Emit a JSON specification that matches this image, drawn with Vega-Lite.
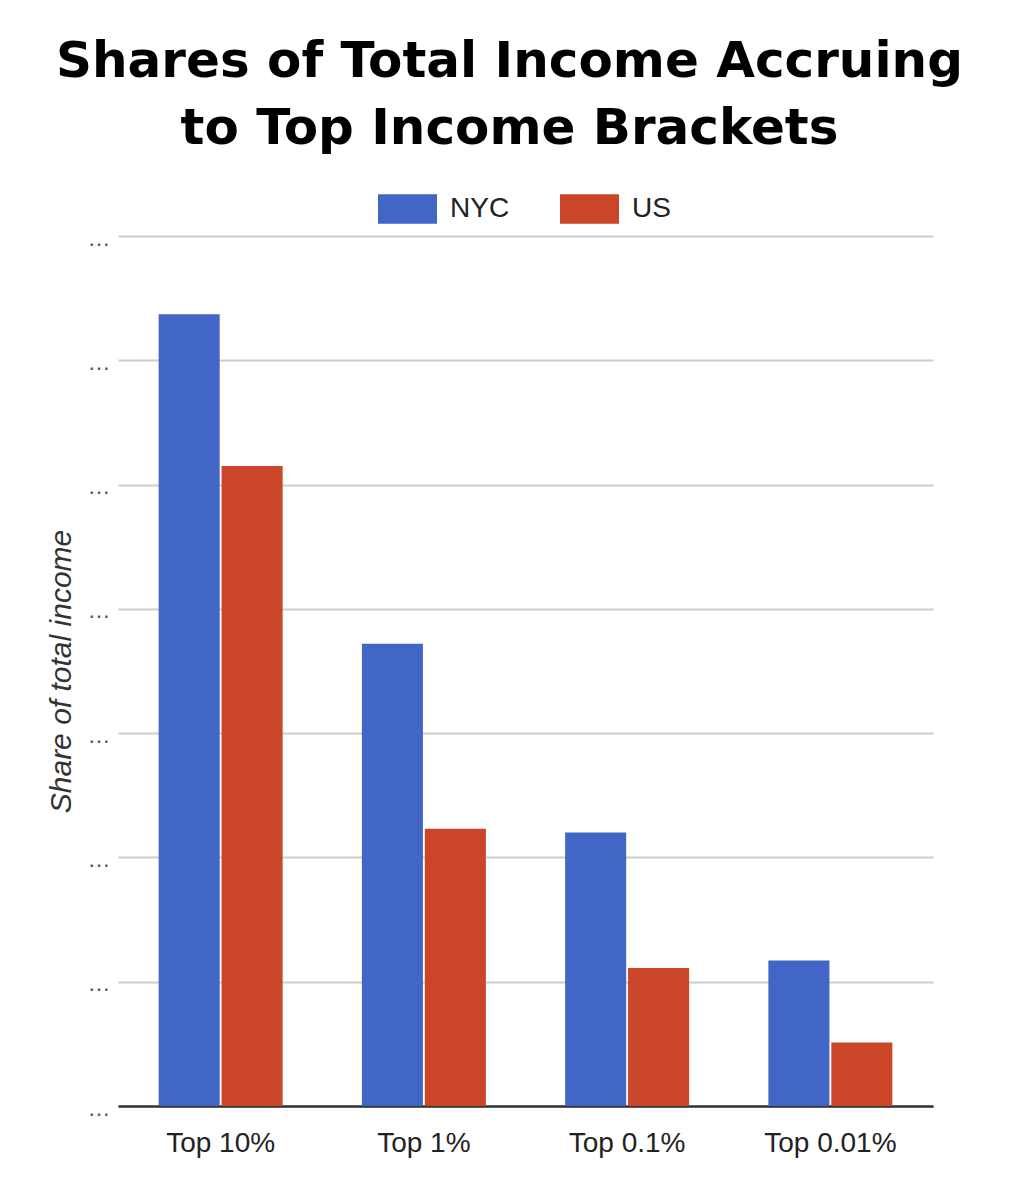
{
  "$schema": "https://vega.github.io/schema/vega-lite/v6.json",
  "autosize": {"type": "none"},
  "padding": {"left": 118, "top": 236, "right": 78, "bottom": 94},
  "width": 815,
  "height": 870,
  "background": "white",
  "title": {
    "text": ["Shares of Total Income Accruing", "to Top Income Brackets"],
    "font": "DejaVu Sans",
    "fontWeight": "bold",
    "fontSize": 50,
    "lineHeight": 67,
    "color": "#000000",
    "anchor": "middle",
    "dx": -16,
    "offset": 25
  },
  "data": {
    "values": [
      {"bracket": "Top 10%", "region": "NYC", "share": 63.7},
      {"bracket": "Top 10%", "region": "US", "share": 51.5},
      {"bracket": "Top 1%", "region": "NYC", "share": 37.2},
      {"bracket": "Top 1%", "region": "US", "share": 22.3},
      {"bracket": "Top 0.1%", "region": "NYC", "share": 22.0},
      {"bracket": "Top 0.1%", "region": "US", "share": 11.1},
      {"bracket": "Top 0.01%", "region": "NYC", "share": 11.7},
      {"bracket": "Top 0.01%", "region": "US", "share": 5.1}
    ]
  },
  "mark": {"type": "bar"},
  "encoding": {
    "x": {
      "field": "bracket",
      "type": "nominal",
      "sort": ["Top 10%", "Top 1%", "Top 0.1%", "Top 0.01%"],
      "scale": {"paddingInner": 0.39, "paddingOuter": 0.2},
      "axis": {
        "title": null,
        "labelAngle": 0,
        "labelFont": "Liberation Sans",
        "labelFontSize": 28,
        "labelColor": "#222222",
        "labelPadding": 23,
        "ticks": false,
        "domainColor": "#333333",
        "domainWidth": 2.5,
        "grid": false
      }
    },
    "xOffset": {
      "field": "region",
      "type": "nominal",
      "scale": {"paddingInner": 0.03}
    },
    "y": {
      "field": "share",
      "type": "quantitative",
      "scale": {"domain": [0, 70], "nice": false},
      "axis": {
        "title": "Share of total income",
        "titleFont": "Liberation Sans",
        "titleFontStyle": "italic",
        "titleFontWeight": "normal",
        "titleFontSize": 30,
        "titleColor": "#333333",
        "titlePadding": 11,
        "values": [0, 10, 20, 30, 40, 50, 60, 70],
        "labelExpr": "'…'",
        "labelFont": "Liberation Sans",
        "labelFontSize": 23,
        "labelColor": "#555555",
        "labelPadding": 8,
        "labelBaseline": "middle",
        "labelOffset": 2,
        "ticks": false,
        "domain": false,
        "grid": true,
        "gridColor": "#cccccc",
        "gridWidth": 2
      }
    },
    "color": {
      "field": "region",
      "type": "nominal",
      "scale": {"domain": ["NYC", "US"], "range": ["#4266c6", "#cb4528"]},
      "legend": {
        "title": null,
        "orient": "none",
        "direction": "horizontal",
        "legendX": 260,
        "legendY": -57,
        "symbolType": "M-1,-0.5H1V0.5H-1Z",
        "symbolSize": 3481,
        "symbolStrokeWidth": 0,
        "labelFont": "Liberation Sans",
        "labelFontSize": 28,
        "labelColor": "#222222",
        "labelOffset": 13,
        "columnPadding": 50,
        "padding": 0
      }
    }
  },
  "config": {"view": {"stroke": null}}
}
